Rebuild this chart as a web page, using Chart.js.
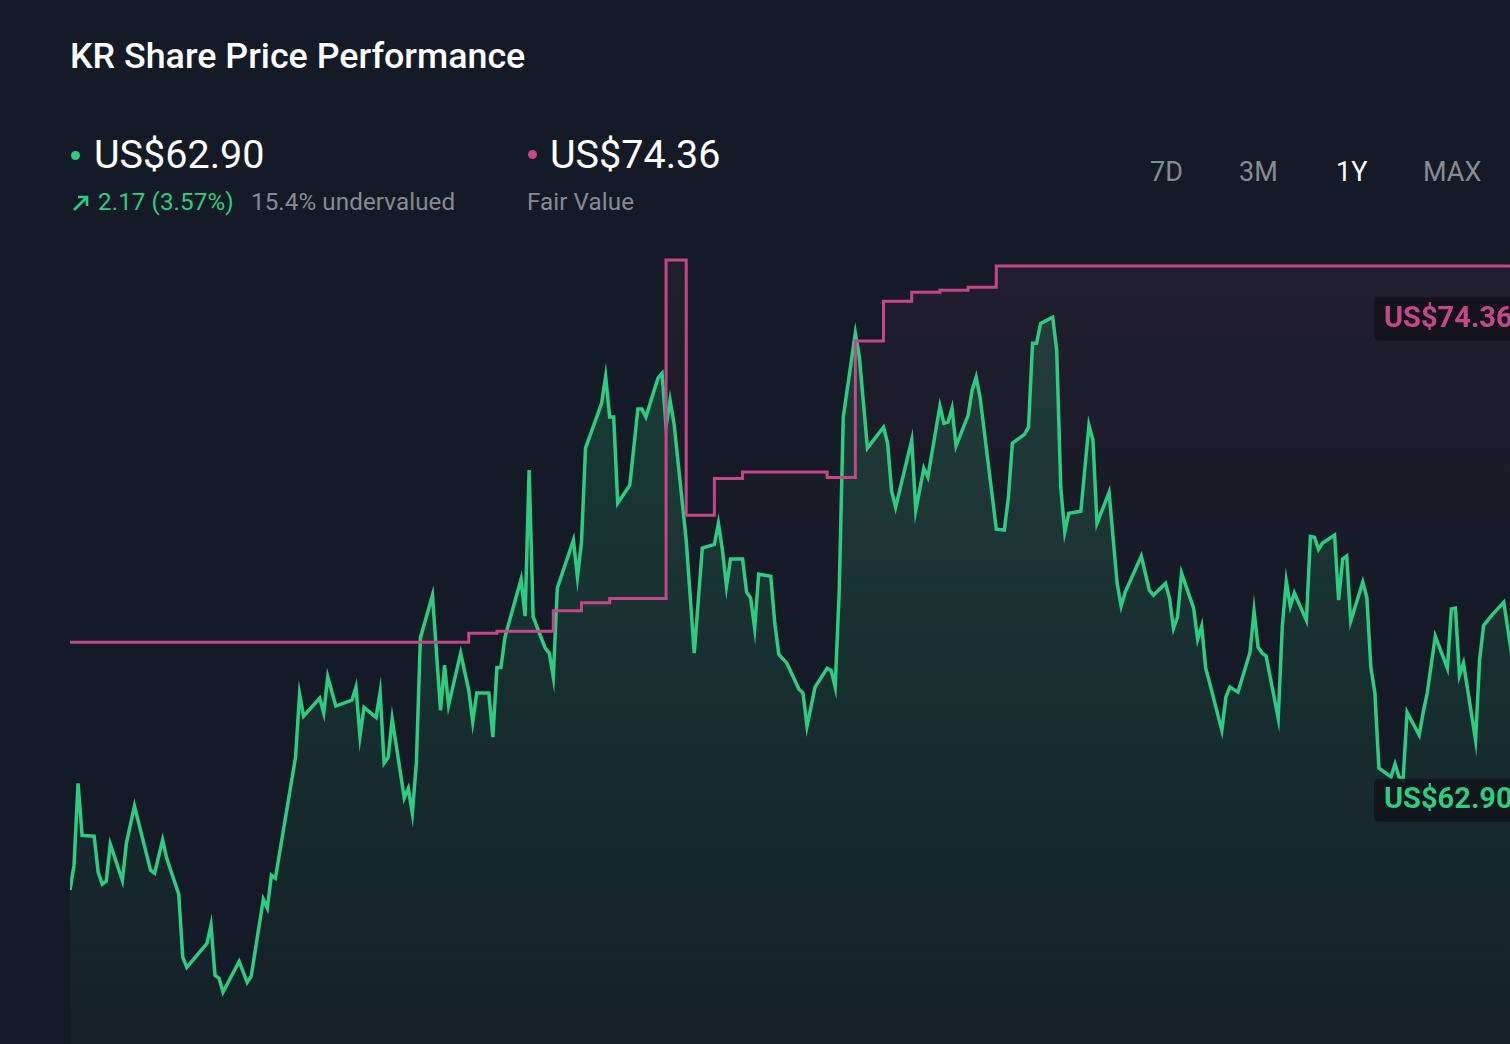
<!DOCTYPE html>
<html><head><meta charset="utf-8">
<script src="https://cdn.jsdelivr.net/npm/chart.js@4.4.1/dist/chart.umd.min.js"></script>
<style>
html,body{margin:0;padding:0;width:1510px;height:1044px;overflow:hidden;background:#151b26;font-family:Roboto,'Noto Sans',sans-serif;}
.t{position:absolute;white-space:nowrap;line-height:1;}
.dot{position:absolute;width:9px;height:9px;border-radius:50%;}
.g{color:#868b94}
.s{font-size:24.2px;letter-spacing:0.08px}
.b{font-size:27px}
</style></head><body>
<div class="t" style="left:70px;top:39px;font-size:35.8px;font-weight:500;color:#fff">KR Share Price Performance</div>
<div class="dot" style="left:70.5px;top:150.5px;background:#2ecc80"></div>
<div class="t" style="left:94px;top:135px;font-size:39.5px;color:#fff">US$62.90</div>
<div class="dot" style="left:527.5px;top:149.5px;background:#c4478a"></div>
<div class="t" style="left:550px;top:135px;font-size:39.5px;color:#fff">US$74.36</div>
<svg style="position:absolute;left:72px;top:194px" width="18" height="18" viewBox="0 0 18 18"><path d="M2 16 L15 3 M6 3 L15 3 L15 12" stroke="#2ecc80" stroke-width="2.6" fill="none"/></svg>
<div class="t s" style="left:98px;top:190px;color:#2ecc80">2.17 (3.57%)</div>
<div class="t g s" style="left:251px;top:190px">15.4% undervalued</div>
<div class="t g s" style="left:527px;top:190px">Fair Value</div>
<div class="t g b" style="left:1150px;top:159px">7D</div>
<div class="t g b" style="left:1239px;top:159px">3M</div>
<div class="t b" style="left:1336px;top:159px;color:#fff">1Y</div>
<div class="t g b" style="left:1423px;top:159px">MAX</div>
<div style="position:absolute;left:70px;top:239px;width:1470px;height:805px"><canvas id="c" width="1470" height="805"></canvas></div>
<script>
// Share price: calendar day index (0 = one year ago) and closing price (US$)
const priceDays = [
  0,1,2,3,6,7,8,9,10,13,
  14,16,20,21,23,24,27,28,29,34,
  35,36,37,38,42,44,45,48,49,50,
  51,56,57,58,62,63,64,66,70,71,
  72,73,76,77,78,79,80,83,84,85,
  86,87,90,92,93,94,97,99,100,101,
  104,105,106,107,108,112,113,114,115,118,
  119,120,121,125,126,127,128,132,133,134,
  135,136,139,141,142,143,146,147,148,149,
  150,153,155,157,160,161,162,163,164,167,
  168,169,170,171,174,175,176,178,181,182,
  183,185,188,189,190,191,192,195,196,198,
  202,203,204,205,209,210,212,213,216,217,
  218,219,220,223,224,225,226,230,232,233,
  234,237,238,239,240,241,244,245,246,247,
  248,251,253,254,255,258,260,261,262,266,
  268,269,272,273,274,275,276,279,280,281,
  282,283,286,287,288,290,293,294,295,296,
  297,300,301,302,303,304,307,308,309,310,
  311,314,315,316,317,318,321,322,323,324,
  325,328,329,330,331,332,335,336,337,339,
  342,343,344,345,346,349,350,351,353,356,
  358,360,363,365
];
const priceValues = [
  59.50,60.09,62.04,60.80,60.78,59.92,59.64,59.71,60.59,59.73,
  60.61,61.50,59.97,59.90,60.69,60.26,59.40,57.90,57.66,58.23,
  58.66,57.47,57.40,57.07,57.80,57.30,57.45,59.28,59.07,59.85,
  59.78,62.66,64.16,63.64,64.07,63.71,64.57,63.88,64.02,64.33,
  63.16,63.85,63.61,64.21,62.52,62.66,63.57,61.69,61.92,61.33,
  62.52,65.50,66.52,63.78,64.85,63.90,65.14,64.26,63.50,64.19,
  64.19,63.14,64.80,64.80,65.52,66.90,66.02,69.50,66.00,65.26,
  65.14,64.57,66.69,67.83,66.95,67.78,70.02,71.09,71.73,70.76,
  70.76,68.71,69.14,70.95,70.95,70.76,71.69,71.80,70.54,71.16,
  70.59,67.83,65.14,67.64,67.73,68.23,67.59,66.73,67.38,67.38,
  66.59,66.45,65.73,67.02,66.97,65.85,65.11,64.90,64.28,64.19,
  63.40,64.33,64.78,64.73,64.33,66.64,70.76,72.76,72.19,70.02,
  70.52,70.14,69.00,68.61,70.21,68.54,69.54,69.33,71.02,70.61,
  70.64,70.97,70.07,70.80,71.40,71.71,71.21,68.09,68.07,68.85,
  70.14,70.35,70.52,72.52,72.52,72.99,73.14,72.35,69.09,68.02,
  68.47,68.52,70.57,70.21,68.23,68.97,66.80,66.26,66.59,67.45,
  66.64,66.52,66.80,66.45,65.73,66.00,67.04,66.21,65.47,65.78,
  64.78,64.42,63.30,64.09,64.33,64.21,65.16,66.14,65.28,65.14,
  65.07,63.59,65.76,66.85,66.26,66.57,65.92,67.92,67.90,67.61,
  67.76,67.95,66.40,67.38,67.45,65.90,66.83,66.47,64.80,64.19,
  62.40,62.19,62.50,62.19,62.12,63.73,63.19,63.73,64.19,65.54,
  64.78,66.19,66.21,64.61,64.90,63.07,64.97,65.80,66.04,66.35,
  65.09,63.60,60.73,62.90
];
// Fair value estimate: day it changed and new value (US$)
const fairValueDays = [0,99,106,120,127,134,148,153,160,167,188,195,202,209,216,223,230,365];
const fairValues = [65.40,65.61,65.66,66.15,66.34,66.44,74.50,68.42,69.30,69.45,69.32,72.57,73.52,73.73,73.78,73.85,74.36,74.36];
const currentPrice = 62.90;
const fairValueNow = 74.36;

const GREEN = '#2ecc80', PINK = '#c4478a';
const pricePoints = priceDays.map((d,i)=>({x:d,y:priceValues[i]}));
const fairPoints = fairValueDays.map((d,i)=>({x:d,y:fairValues[i]}));

const endLabels = {
  id:'endLabels',
  afterDatasetsDraw(chart){
    const {ctx, chartArea, scales} = chart;
    const items = [{v:fairValueNow,color:PINK},{v:currentPrice,color:GREEN}];
    ctx.save();
    ctx.font = 'bold 29px Roboto';
    items.forEach(it=>{
      const y = scales.y.getPixelForValue(it.v) + 53;
      const txt = 'US$' + it.v.toFixed(2);
      const w = ctx.measureText(txt).width + 20;
      const x = chartArea.right - 166;
      ctx.fillStyle = 'rgba(17,19,25,0.82)';
      ctx.beginPath(); ctx.roundRect(x, y-21.5, w, 43, 5); ctx.fill();
      ctx.fillStyle = it.color; ctx.textBaseline = 'middle';
      ctx.fillText(txt, x+10, y+1);
    });
    ctx.restore();
  }
};

new Chart(document.getElementById('c'), {
  type:'line',
  data:{datasets:[
    {label:'Fair Value', data:fairPoints, borderColor:PINK, borderWidth:3, stepped:true, pointRadius:0, order:0,
     fill:'start',
     backgroundColor:(c)=>{const a=c.chart.chartArea; if(!a) return 'transparent';
       const g=c.chart.ctx.createLinearGradient(0,a.top,0,a.top+420);
       g.addColorStop(0,'rgba(196,71,138,0.08)'); g.addColorStop(1,'rgba(196,71,138,0)'); return g;}},
    {label:'Share Price', data:pricePoints, borderColor:GREEN, borderWidth:3.5, tension:0, pointRadius:0, order:1,
     fill:'start',
     backgroundColor:(c)=>{const a=c.chart.chartArea; if(!a) return 'transparent';
       const g=c.chart.ctx.createLinearGradient(0,a.top+60,0,a.bottom);
       g.addColorStop(0,'rgba(46,204,128,0.20)'); g.addColorStop(1,'rgba(46,204,128,0.03)'); return g;}}
  ]},
  options:{
    responsive:false, animation:false,
    layout:{padding:0},
    scales:{
      x:{type:'linear', min:0, max:365, display:false},
      y:{min:55.833, max:75, display:false}
    },
    plugins:{legend:{display:false}, tooltip:{enabled:false}, filler:{drawTime:'beforeDatasetsDraw'}}
  },
  plugins:[endLabels]
});
</script>
</body></html>
